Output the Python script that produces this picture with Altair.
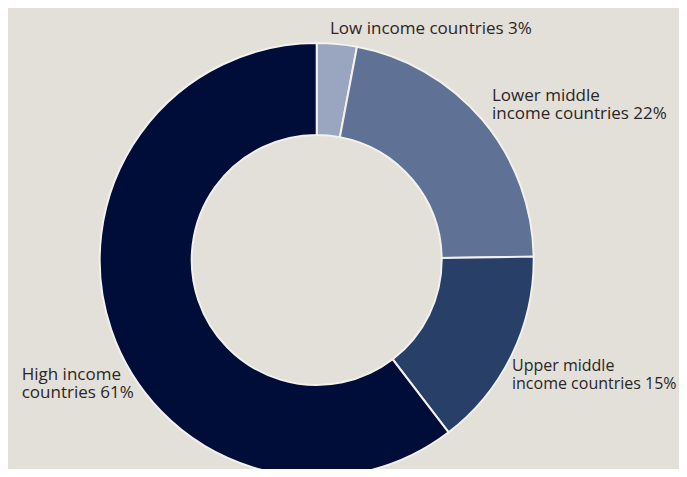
import altair as alt
import pandas as pd

categories = ["Low income countries", "Lower middle income countries",
              "Upper middle income countries", "High income countries"]
shares = [3, 22, 15, 61]
colors = ["#9aa5c0", "#5f7195", "#283f68", "#000d38"]

label_low = ["Low income countries 3%"]
label_lower = ["Lower middle", "income countries 22%"]
label_upper = ["Upper middle", "income countries 15%"]
label_high = ["High income", "countries 61%"]

df = pd.DataFrame({"category": categories, "share": shares,
                   "order": list(range(len(categories)))})

cx, cy = 308.7, 252

donut = alt.Chart(df).mark_arc(
    outerRadius=217, innerRadius=125, stroke="#f3f1ed", strokeWidth=2
).encode(
    theta=alt.Theta("share:Q", stack=True),
    order=alt.Order("order:Q"),
    color=alt.Color("category:N", scale=alt.Scale(domain=categories, range=colors), legend=None),
    x=alt.value(cx),
    y=alt.value(cy),
)

def label(lines, x, y, size=17, step=17.5):
    layers = []
    for i, line in enumerate(lines):
        layers.append(
            alt.Chart(df.head(1)).mark_text(
                align="left", baseline="alphabetic", font="Open Sans", fontSize=size,
                fontWeight=400, color="#2a2627"
            ).encode(x=alt.value(x), y=alt.value(y + i * step), text=alt.value(line))
        )
    return alt.layer(*layers)

chart = alt.layer(
    donut,
    label(label_low, 322, 26),
    label(label_lower, 484, 93),
    label(label_upper, 504, 363, size=16),
    label(label_high, 13.7, 372),
).properties(
    width=671, height=461, padding=0, background="#e3dfd9",
    autosize=alt.AutoSizeParams(type="none")
).configure_view(stroke=None)

chart.save("out.html", embed_options={"renderer": "svg", "actions": False})
